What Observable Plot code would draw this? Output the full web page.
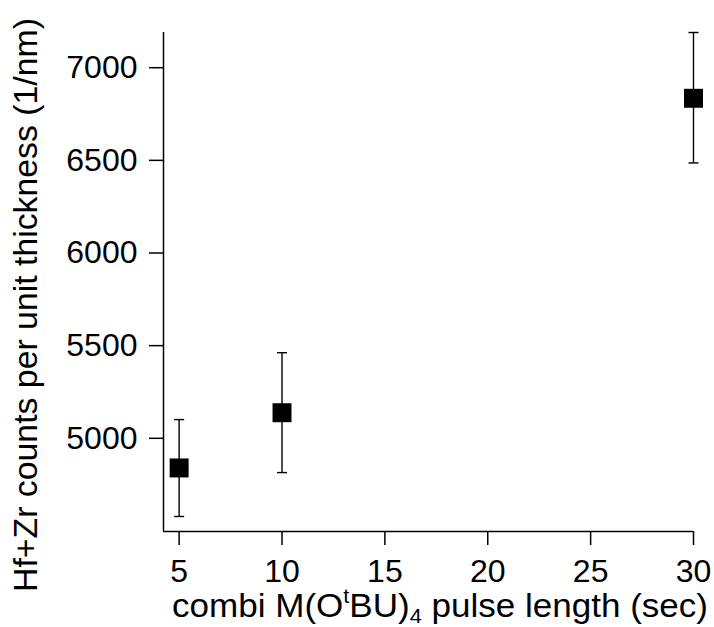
<!DOCTYPE html>
<html>
<head>
<meta charset="utf-8">
<script src="https://cdn.jsdelivr.net/npm/d3@7"></script>
<script src="https://cdn.jsdelivr.net/npm/@observablehq/plot@0.6"></script>
<style>
  html, body { margin: 0; padding: 0; background: #fff; }
  svg text { font-family: "Liberation Sans", Arial, sans-serif; }
</style>
</head>
<body>
<div id="chart"></div>
<script>
// Data
const pulse = [5, 10, 30];
const counts = [4840, 5138, 6835];
const errLow = [4578, 4815, 6486];
const errHigh = [5101, 5462, 7190];

const xTicks = [5, 10, 15, 20, 25, 30];
const yTicks = [5000, 5500, 6000, 6500, 7000];
const xDomain = [4.24, 30];
const yDomain = [4497, 7190];

const yTitle = "Hf+Zr counts per unit thickness (1/nm)";

const data = pulse.map((p, i) => ({x: p, y: counts[i], lo: errLow[i], hi: errHigh[i]}));

const capSymbol = {
  draw(ctx, size) {
    const w = Math.sqrt(size / Math.PI);
    ctx.moveTo(-w, 0);
    ctx.lineTo(w, 0);
  }
};

const chart = Plot.plot({
  width: 714,
  height: 627,
  marginLeft: 163,
  marginRight: 21,
  marginTop: 32,
  marginBottom: 96,
  style: {fontFamily: "Liberation Sans, Arial, sans-serif", fontSize: "32px", color: "#000", background: "#fff"},
  x: {domain: xDomain},
  y: {domain: yDomain},
  marks: [
    Plot.ruleX([xDomain[0]], {stroke: "#000", strokeWidth: 1.5}),
    Plot.ruleY([yDomain[0]], {stroke: "#000", strokeWidth: 1.5}),
    Plot.axisX({ticks: xTicks, tickSize: 14, tickPadding: 14, strokeWidth: 1.5, fontSize: 32, label: null, tickFormat: d => String(d)}),
    Plot.axisY({ticks: yTicks, tickSize: 14, tickPadding: 12, strokeWidth: 1.5, fontSize: 32, label: null, tickFormat: d => String(d)}),
    Plot.ruleX(data, {x: "x", y1: "lo", y2: "hi", stroke: "#000", strokeWidth: 1.4}),
    Plot.dot(data, {x: "x", y: "lo", symbol: capSymbol, r: 5, stroke: "#000", strokeWidth: 1.4, fill: "none"}),
    Plot.dot(data, {x: "x", y: "hi", symbol: capSymbol, r: 5, stroke: "#000", strokeWidth: 1.4, fill: "none"}),
    Plot.dot(data, {x: "x", y: "y", symbol: "square", r: 10.7, fill: "#000", stroke: "none"})
  ]
});

document.getElementById("chart").appendChild(chart);

// Axis titles (with superscript/subscript), added as real SVG text
const svg = d3.select(chart);
const xt = svg.append("text")
  .attr("x", 172).attr("y", 617)
  .attr("fill", "#000")
  .attr("text-anchor", "start")
  .style("font-size", "34px")
  .attr("textLength", 536).attr("lengthAdjust", "spacingAndGlyphs");
xt.append("tspan").text("combi M(O");
xt.append("tspan").attr("dy", -14).style("font-size", "21px").text("t");
xt.append("tspan").attr("dy", 14).text("BU)");
xt.append("tspan").attr("dy", 6).style("font-size", "21px").text("4");
xt.append("tspan").attr("dy", -6).text(" pulse length (sec)");

svg.append("text")
  .attr("transform", "translate(37,592) rotate(-90)")
  .attr("fill", "#000")
  .attr("text-anchor", "start")
  .style("font-size", "34px")
  .attr("textLength", 574).attr("lengthAdjust", "spacingAndGlyphs")
  .text(yTitle);
</script>
</body>
</html>
